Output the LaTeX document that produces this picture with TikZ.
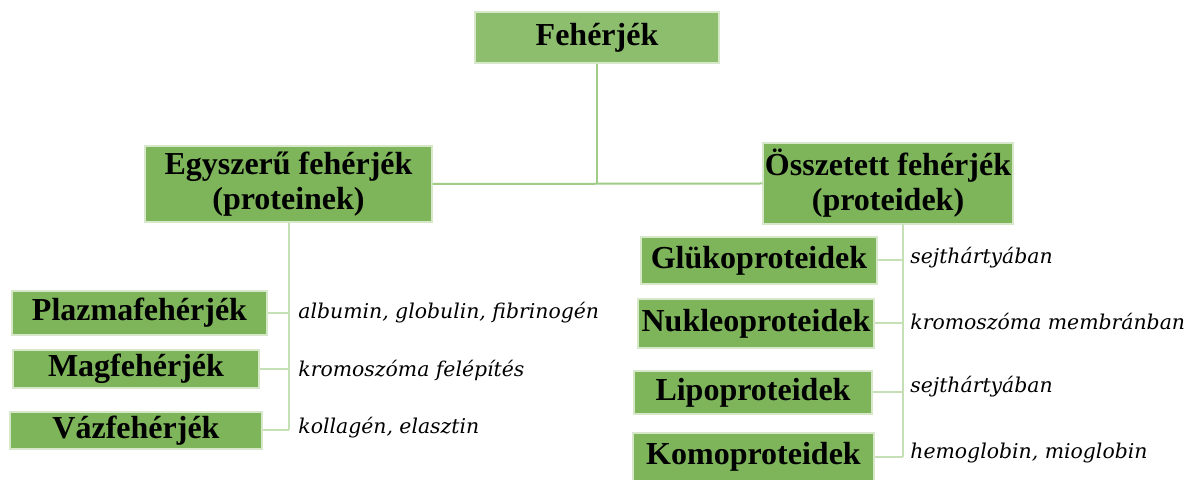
\documentclass[tikz,border=0pt]{standalone}
\usepackage{fontspec}
\setmainfont{Liberation Serif}
\newfontfamily\notefont{DejaVu Serif}
\usetikzlibrary{positioning}
\definecolor{boxgreen}{RGB}{126,181,90}
\definecolor{topgreen}{RGB}{141,190,110}
\definecolor{edgegreen}{RGB}{214,232,201}
\definecolor{linegreen}{RGB}{197,224,180}
\definecolor{stemgreen}{RGB}{160,204,135}
\tikzset{
  box/.style={fill=boxgreen, draw=edgegreen, line width=0.6pt, inner sep=0pt,
    align=center, font=\fontsize{16}{17.5}\selectfont\bfseries},
  note/.style={anchor=west, inner sep=0pt, font=\notefont\itshape\fontsize{10.2}{12}\selectfont},
  link/.style={draw=linegreen, line width=1pt},
  stem/.style={draw=stemgreen, line width=1pt},
}

\begin{document}
\begin{tikzpicture}[x=0.5pt, y=-0.5pt]
  \useasboundingbox (0,0) rectangle (1184,480);

  % 顶层
  \node[box, fill=topgreen, minimum width=122pt, minimum height=25.5pt] (feh) at (597,37.5) {Fehérjék};
  \node[box, minimum width=143.5pt, minimum height=38pt] (egy) at (288.5,184) {Egyszerű fehérjék\\(proteinek)};
  \node[box, minimum width=125pt, minimum height=40.5pt] (oss) at (888,183.5) {Összetett fehérjék\\(proteidek)};
  \draw[stem] (egy.east) -- (oss.west);
  \draw[stem] (feh.south) -- (feh.south |- egy.east);

  % 左枝：egyszerű fehérjék
  \node[box, minimum width=127.5pt, minimum height=22pt] (plazma) at (139.5,313) {Plazmafehérjék};
  \node[box, minimum width=123pt, minimum height=19pt] (mag) at (136,369) {Magfehérjék};
  \node[box, minimum width=126pt, minimum height=18.5pt] (vaz) at (136,430.5) {Vázfehérjék};
  \draw[link] (egy.south) -- (vaz.east -| egy.south);
  \foreach \b in {plazma, mag, vaz}
    \draw[link] (\b.east) -- (\b.east -| egy.south);
  \node[note] (albumin) at (298,313) {albumin, globulin, fibrinogén};
  \node[note] (kromo) at (298,370) {kromoszóma felépítés};
  \node[note] (kollagen) at (298,428) {kollagén, elasztin};

  % 右枝：összetett fehérjék
  \coordinate (rspine) at (903,224);
  \node[box, minimum width=118pt, minimum height=23.5pt] (gluko) at (759,260.5) {Glükoproteidek};
  \node[box, minimum width=118pt, minimum height=24.5pt] (nukleo) at (756,323.5) {Nukleoproteidek};
  \node[box, minimum width=119pt, minimum height=21.5pt] (lipo) at (753,392.5) {Lipoproteidek};
  \node[box, minimum width=120.5pt, minimum height=24pt] (komo) at (753.5,457) {Komoproteidek};
  \draw[link] (rspine) -- (rspine |- komo.east);
  \foreach \b in {gluko, nukleo, lipo, komo}
    \draw[link] (\b.east) -- (\b.east -| rspine);
  \node[note] (sejt) at (910,258) {sejthártyában};
  \node[note] (membran) at (910,322) {kromoszóma membránban};
  \node[note] (sejtb) at (910,387) {sejthártyában};
  \node[note] (hemo) at (910,453) {hemoglobin, mioglobin};
\end{tikzpicture}
\end{document}
